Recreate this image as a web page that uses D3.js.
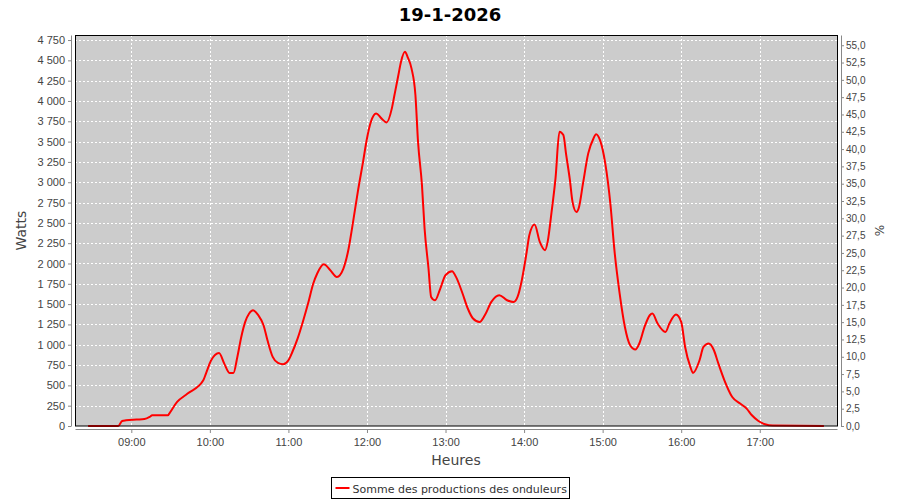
<!DOCTYPE html>
<html>
<head>
<meta charset="utf-8">
<script src="https://cdn.jsdelivr.net/npm/d3@7"></script>
<style>
  body { margin: 0; background: #fff; }
  svg { font-family: "DejaVu Sans", sans-serif; }
</style>
</head>
<body>
<svg class="chart" width="900" height="500"></svg>
<script>
var title = "19-1-2026";
var seriesName = "Somme des productions des onduleurs";

var times = ["08:27","08:50","08:53","08:56","09:04","09:10","09:14","09:16","09:28","09:29",
  "09:35","09:43","09:55","09:57","10:01","10:07","10:11","10:15","10:18","10:21",
  "10:24","10:27","10:30","10:33","10:37","10:41","10:44","10:48","10:52","10:56",
  "11:00","11:03","11:07","11:11","11:15","11:19","11:22","11:27","11:32","11:37",
  "11:42","11:46","11:49","11:53","11:57","12:00","12:03","12:07","12:11","12:15",
  "12:19","12:21","12:24","12:26","12:29","12:31","12:34","12:37","12:39","12:42",
  "12:44","12:47","12:49","12:52","12:56","13:00","13:05","13:08","13:13","13:17",
  "13:21","13:26","13:30","13:35","13:41","13:47","13:52","13:55","13:58","14:02",
  "14:04","14:08","14:12","14:16","14:18","14:21","14:24","14:27","14:30","14:32",
  "14:35","14:37","14:40","14:42","14:45","14:49","14:53","14:55","14:58","15:02",
  "15:06","15:09","15:13","15:17","15:21","15:25","15:28","15:32","15:36","15:38",
  "15:42","15:48","15:51","15:56","16:00","16:03","16:07","16:09","16:14","16:17",
  "16:21","16:25","16:28","16:33","16:39","16:45","16:50","16:54","16:59","17:04",
  "17:10","17:49"];
var watts = [0,0,62,70,79,85,111,132,132,153,
  296,399,563,645,809,899,768,653,653,850,
  1096,1281,1384,1425,1363,1240,1055,850,776,760,
  809,911,1076,1281,1507,1754,1877,1990,1917,1835,
  1938,2185,2472,2882,3251,3539,3744,3847,3786,3736,
  3909,4073,4319,4483,4606,4544,4401,4073,3498,2964,
  2431,1938,1589,1548,1692,1856,1905,1835,1631,1446,
  1323,1281,1363,1527,1610,1548,1527,1589,1773,2143,
  2348,2480,2266,2164,2266,2635,3047,3621,3580,3355,
  3026,2759,2635,2697,2985,3355,3539,3592,3518,3232,
  2720,2164,1630,1219,994,941,1015,1219,1363,1384,
  1261,1158,1261,1372,1281,973,727,653,809,973,
  1015,932,788,563,357,276,214,132,62,21,
  5,0];

var peakPower = 8520;          // puissance crête installée (W) -> 100 %
var wattTicks = d3.range(0, 4751, 250);
var pctTicks = d3.range(0, 55.01, 2.5);
var hourTicks = ["09:00","10:00","11:00","12:00","13:00","14:00","15:00","16:00","17:00"];

var margin = {top: 35, right: 63, bottom: 74, left: 75};
var width = 900 - margin.left - margin.right,
    height = 500 - margin.top - margin.bottom;

var fr = d3.formatLocale({decimal: ",", thousands: "\u00a0", grouping: [3], currency: ["", ""]});
var fmtW = fr.format(",d"), fmtP = fr.format(".1f");

var parseTime = function(s) { return d3.timeParse("%Y-%m-%d %H:%M")("2026-01-19 " + s); };

var data = times.map(function(t, i) { return {t: parseTime(t), w: watts[i]}; });

var x = d3.scaleTime()
    .domain([parseTime("08:17"), parseTime("17:59")])
    .range([0, width]);
var y = d3.scaleLinear().domain([0, 4812]).range([height, 0]);
var y2 = d3.scaleLinear().domain([0, 4812 / peakPower * 100]).range([height, 0]);

var svg = d3.select(".chart");
var g = svg.append("g").attr("transform", "translate(" + margin.left + "," + margin.top + ")");

g.append("rect")
    .attr("width", width)
    .attr("height", height)
    .attr("fill", "#cccccc");

// grille
g.selectAll(".hgrid")
    .data(wattTicks)
  .enter().append("line")
    .attr("x1", 0).attr("x2", width)
    .attr("y1", function(d) { return Math.round(y(d)) + 0.5; })
    .attr("y2", function(d) { return Math.round(y(d)) + 0.5; })
    .attr("stroke", "#fff").attr("stroke-dasharray", "2,2");

g.selectAll(".vgrid")
    .data(hourTicks)
  .enter().append("line")
    .attr("y1", 0).attr("y2", height)
    .attr("x1", function(d) { return Math.round(x(parseTime(d))) + 0.5; })
    .attr("x2", function(d) { return Math.round(x(parseTime(d))) + 0.5; })
    .attr("stroke", "#fff").attr("stroke-dasharray", "2,2");

var line = d3.line()
    .x(function(d) { return x(d.t); })
    .y(function(d) { return y(d.w); })
    .curve(d3.curveMonotoneX);

g.append("path")
    .datum(data)
    .attr("fill", "none")
    .attr("stroke", "#ff0000")
    .attr("stroke-width", 2)
    .attr("d", line);

g.append("rect")
    .attr("x", 0.5).attr("y", 0.5)
    .attr("width", width).attr("height", height - 0.5)
    .attr("fill", "none").attr("stroke", "#000");

// axes
function styleAxis(sel) {
  sel.selectAll("path, line").attr("stroke", "#888");
  sel.selectAll("text").attr("fill", "#444").style("font-size", "11px");
}

var xAxis = g.append("g")
    .attr("transform", "translate(0," + (height + 3) + ")")
    .call(d3.axisBottom(x).tickValues(hourTicks.map(parseTime))
      .tickFormat(d3.timeFormat("%H:%M")).tickSizeInner(4).tickSizeOuter(0).tickPadding(5))
    .call(styleAxis);

var yAxis = g.append("g")
    .attr("transform", "translate(-4,0)")
    .call(d3.axisLeft(y).tickValues(wattTicks).tickFormat(fmtW)
      .tickSizeInner(3).tickSizeOuter(0).tickPadding(3))
    .call(styleAxis);

var y2Axis = g.append("g")
    .attr("transform", "translate(" + (width + 4) + ",0)")
    .call(d3.axisRight(y2).tickValues(pctTicks).tickFormat(fmtP)
      .tickSizeInner(3).tickSizeOuter(0).tickPadding(2))
    .call(styleAxis);
y2Axis.selectAll("text").style("font-size", "10px");

// titres
svg.append("text")
    .attr("x", 450).attr("y", 21)
    .attr("text-anchor", "middle")
    .style("font-size", "18px").style("font-weight", "bold")
    .attr("fill", "#000")
    .text(title);

svg.append("text")
    .attr("x", margin.left + width / 2).attr("y", 465)
    .attr("text-anchor", "middle")
    .style("font-size", "14px").attr("fill", "#444")
    .text("Heures");

svg.append("text")
    .attr("transform", "translate(26," + (margin.top + height / 2) + ") rotate(-90)")
    .attr("text-anchor", "middle")
    .style("font-size", "14px").attr("fill", "#444")
    .text("Watts");

svg.append("text")
    .attr("transform", "translate(884," + (margin.top + height / 2) + ") rotate(-90)")
    .attr("text-anchor", "middle")
    .style("font-size", "12px").attr("fill", "#444")
    .text("%");

// légende
var legend = svg.append("g").attr("transform", "translate(331.5,477.5)");
legend.append("rect")
    .attr("width", 238).attr("height", 21)
    .attr("fill", "#fff").attr("stroke", "#000");
legend.append("line")
    .attr("x1", 4).attr("x2", 18).attr("y1", 10.5).attr("y2", 10.5)
    .attr("stroke", "#ff0000").attr("stroke-width", 2);
legend.append("text")
    .attr("x", 21).attr("y", 15)
    .style("font-size", "11px").attr("fill", "#333")
    .text(seriesName);
</script>
</body>
</html>
